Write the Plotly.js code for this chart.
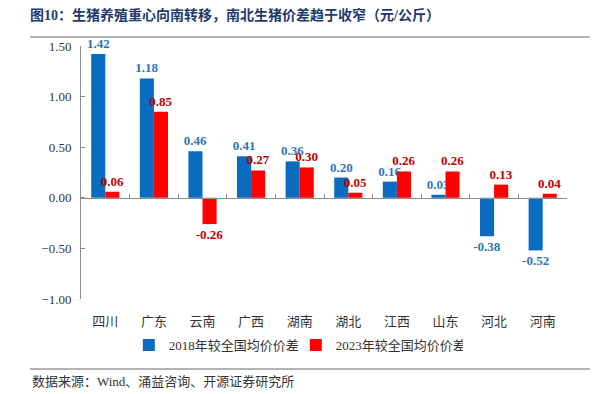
<!DOCTYPE html>
<html><head><meta charset="utf-8">
<script src="https://cdn.plot.ly/plotly-3.0.1.min.js"></script>
<style>body{margin:0;background:#fff}#c{width:600px;height:394px}</style>
</head><body><div id="c"></div>
<script>
const provinces = ["四川","广东","云南","广西","湖南","湖北","江西","山东","河北","河南"];
const diff2018 = [1.42,1.18,0.46,0.41,0.36,0.20,0.16,0.03,-0.38,-0.52];
const diff2023 = [0.06,0.85,-0.26,0.27,0.30,0.05,0.26,0.26,0.13,0.04];
const seriesNames = ["2018年较全国均价价差","2023年较全国均价价差"];
const titleText = "图10：生猪养殖重心向南转移，南北生猪价差趋于收窄（元/公斤）";
const sourceText = "数据来源：Wind、涌益咨询、开源证券研究所";

const serif = '"Liberation Serif","Noto Sans CJK SC",serif';
const traces = [
  {type:'bar', name:seriesNames[0], x:provinces, y:diff2018,
   marker:{color:'#0A6CC1'}, text:diff2018.map(v=>v.toFixed(2)), textposition:'outside',
   textfont:{family:serif,size:13,color:'#2E75B6',weight:'bold'}, cliponaxis:false, constraintext:'none'},
  {type:'bar', name:seriesNames[1], x:provinces, y:diff2023,
   marker:{color:'#FF0000'}, text:diff2023.map(v=>v.toFixed(2)), textposition:'outside',
   textfont:{family:serif,size:13,color:'#C00000',weight:'bold'}, cliponaxis:false, constraintext:'none'}
];
const layout = {
  width:600, height:394,
  margin:{l:81, r:33, t:46, b:95},
  paper_bgcolor:'#fff', plot_bgcolor:'#fff',
  barmode:'group', bargap:0.42, bargroupgap:0,
  showlegend:true,
  font:{family:serif, size:13, color:'#222'},
  title:{text:titleText, x:0.05, xanchor:'left', y:0.962, yanchor:'middle', yref:'container',
         font:{family:serif, size:14, color:'#1F3A6E', weight:'bold'}},
  xaxis:{type:'category', anchor:'free', position:0.4, showline:true, linecolor:'#8c8c8c', linewidth:1,
         ticks:'inside', ticklen:4, tickcolor:'#8c8c8c', tickson:'boundaries', showgrid:false,
         ticklabelstandoff:112, tickfont:{family:serif, size:13, color:'#333'}},
  yaxis:{range:[-1,1.5], tickvals:[-1,-0.5,0,0.5,1,1.5], tickformat:'.2f', showgrid:false, zeroline:false,
         showline:true, linecolor:'#8c8c8c', linewidth:1, ticks:'inside', ticklen:4, tickcolor:'#8c8c8c',
         ticklabelstandoff:6, tickfont:{family:serif, size:13, color:'#333'}},
  legend:{orientation:'h', x:0.442, xanchor:'center', y:-0.182, yanchor:'middle', bgcolor:'rgba(0,0,0,0)',
          font:{family:serif, size:13, color:'#333'}, itemwidth:30, entrywidth:122, traceorder:'normal'},
  shapes:[
    {type:'line', xref:'paper', yref:'paper', x0:-0.105, x1:1.047, y0:1.0356, y1:1.0356, line:{color:'#9a9a9a', width:1.5}},
    {type:'line', xref:'paper', yref:'paper', x0:-0.105, x1:1.047, y0:-0.2767, y1:-0.2767, line:{color:'#9a9a9a', width:1.5}}
  ],
  annotations:[
    {text:sourceText, xref:'paper', yref:'paper', x:-0.105, y:-0.328, xanchor:'left', yanchor:'middle',
     showarrow:false, font:{family:serif, size:13, color:'#333'}}
  ]
};
Plotly.newPlot('c', traces, layout, {displayModeBar:false, staticPlot:true});
</script></body></html>
